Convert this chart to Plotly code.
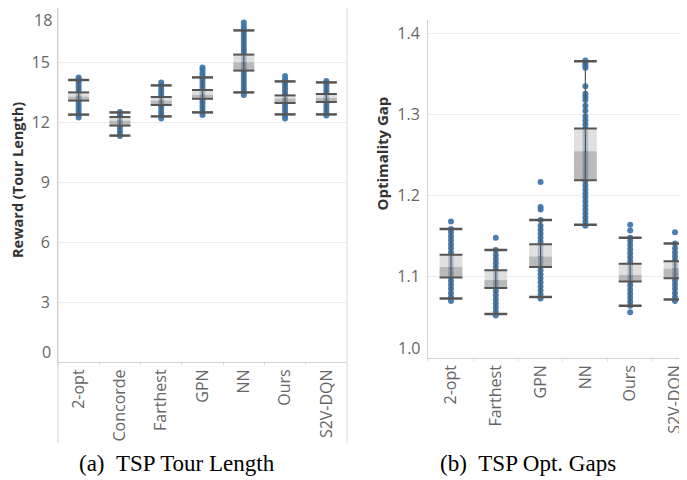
import plotly.graph_objects as go

# ---------------- data ----------------
cats_a = ["2-opt", "Concorde", "Farthest", "GPN", "NN", "Ours", "S2V-DQN"]
lo_a = [12.37, 11.32, 12.28, 12.48, 13.48, 12.38, 12.38]
q1_a = [13.07, 11.82, 12.85, 13.16, 14.57, 12.95, 13.00]
med_a = [13.27, 12.07, 13.07, 13.36, 14.98, 13.17, 13.20]
q3_a = [13.48, 12.25, 13.25, 13.60, 15.37, 13.33, 13.40]
hi_a = [14.10, 12.48, 13.83, 14.23, 16.58, 14.03, 13.98]

pts_a_2opt = [12.22, 12.37, 12.52, 12.67, 12.82, 12.97, 13.12, 13.27, 13.42, 13.57, 13.72, 13.87, 14.02, 14.12, 14.22]
pts_a_concorde = [11.30, 11.45, 11.60, 11.75, 11.90, 12.05, 12.20, 12.35, 12.50]
pts_a_farthest = [12.18, 12.33, 12.48, 12.63, 12.78, 12.93, 13.08, 13.23, 13.38, 13.53, 13.68, 13.83, 13.97]
pts_a_gpn = [12.35, 12.50, 12.65, 12.80, 12.95, 13.10, 13.25, 13.40, 13.55, 13.70, 13.85, 14.00, 14.15, 14.30, 14.45, 14.60, 14.72]
pts_a_nn = [13.35, 13.50, 13.65, 13.80, 13.95, 14.10, 14.25, 14.40, 14.55, 14.70, 14.85, 15.00, 15.15, 15.30,
            15.45, 15.60, 15.75, 15.90, 16.05, 16.20, 16.35, 16.50, 16.65, 16.80, 16.97]
pts_a_ours = [12.18, 12.33, 12.48, 12.63, 12.78, 12.93, 13.08, 13.23, 13.38, 13.53, 13.68, 13.83, 13.98, 14.13, 14.30]
pts_a_s2v = [12.32, 12.47, 12.62, 12.77, 12.92, 13.07, 13.22, 13.37, 13.52, 13.67, 13.82, 13.95, 14.05]

cats_b = ["2-opt", "Farthest", "GPN", "NN", "Ours", "S2V-DQN"]
lo_b = [1.073, 1.054, 1.075, 1.164, 1.064, 1.072]
q1_b = [1.099, 1.086, 1.112, 1.219, 1.094, 1.098]
med_b = [1.112, 1.096, 1.125, 1.255, 1.102, 1.110]
q3_b = [1.127, 1.108, 1.140, 1.283, 1.116, 1.119]
hi_b = [1.159, 1.133, 1.170, 1.366, 1.148, 1.141]

pts_b_2opt = [1.070, 1.075, 1.080, 1.085, 1.090, 1.095, 1.100, 1.105, 1.110, 1.115, 1.120, 1.125, 1.130,
              1.135, 1.140, 1.145, 1.150, 1.155, 1.159, 1.168]
pts_b_farthest = [1.052, 1.057, 1.062, 1.067, 1.072, 1.077, 1.082, 1.087, 1.092, 1.097, 1.102, 1.107, 1.112,
                  1.117, 1.122, 1.127, 1.133, 1.148]
pts_b_gpn = [1.073, 1.078, 1.083, 1.088, 1.093, 1.098, 1.103, 1.108, 1.113, 1.118, 1.123, 1.128, 1.133, 1.138,
             1.143, 1.148, 1.153, 1.158, 1.163, 1.170, 1.183, 1.186, 1.217]
pts_b_nn = [1.163, 1.168, 1.173, 1.178, 1.183, 1.188, 1.193, 1.198, 1.203, 1.208, 1.213, 1.218, 1.223, 1.228,
            1.233, 1.238, 1.243, 1.248, 1.253, 1.258, 1.263, 1.268, 1.273, 1.278, 1.283, 1.288, 1.293, 1.298,
            1.305, 1.311, 1.318, 1.322, 1.326, 1.335, 1.358, 1.361, 1.364, 1.367]
pts_b_ours = [1.056, 1.064, 1.069, 1.074, 1.079, 1.084, 1.089, 1.094, 1.099, 1.104, 1.109, 1.114, 1.119, 1.124,
              1.129, 1.134, 1.139, 1.144, 1.148, 1.157, 1.164]
pts_b_s2v = [1.070, 1.075, 1.080, 1.085, 1.090, 1.095, 1.100, 1.105, 1.110, 1.115, 1.120, 1.125, 1.130, 1.135,
             1.141, 1.155]

yticks_a = [3, 6, 9, 12, 15]
yticks_b = [1.1, 1.2, 1.3, 1.4]

# ---------------- style ----------------
W, H = 687, 480      # browser window
OFF = 8              # default body margin of the page
FW, FH = W - OFF, H - OFF
BLUE = "#3a74ad"
DARK = "#555555"
LIGHT_BOX = "rgba(212,212,212,0.72)"
DARK_BOX = "rgba(160,160,160,0.72)"
GRID = "#ececec"
AXL = "#d3d3d3"
TICKC = "#666666"
SANS = "Open Sans"


def px(x):
    return min(max((x - OFF) / FW, 0.0), 1.0)


def py(y):
    return min(max(1 - (y - OFF) / FH, 0.0), 1.0)


fig = go.Figure()


def add_panel(cats, pts_lists, lo, q1, med, q3, hi, xa, ya, xo, yo, capsize):
    xs, ys = [], []
    for c, vals in zip(cats, pts_lists):
        xs += [c] * len(vals)
        ys += vals
    fig.add_trace(go.Scatter(x=xs, y=ys, mode="markers", xaxis=xa, yaxis=ya,
                             marker=dict(color=BLUE, size=6, opacity=0.92, line=dict(width=0)),
                             showlegend=False, hoverinfo="skip"))
    # boxes (on overlay axes so they sit above the points)
    fig.add_trace(go.Bar(x=cats, y=[b - a for a, b in zip(med, q3)], base=med, width=0.51,
                         marker=dict(color=LIGHT_BOX, line=dict(width=0)),
                         xaxis=xo, yaxis=yo, showlegend=False, hoverinfo="skip"))
    fig.add_trace(go.Bar(x=cats, y=[b - a for a, b in zip(q1, med)], base=q1, width=0.51,
                         marker=dict(color=DARK_BOX, line=dict(width=0)),
                         xaxis=xo, yaxis=yo, showlegend=False, hoverinfo="skip"))
    wx, wy = [], []
    for c, l, h in zip(cats, lo, hi):
        wx += [c, c, None]
        wy += [l, h, None]
    fig.add_trace(go.Scatter(x=wx, y=wy, mode="lines", line=dict(color=DARK, width=1.2),
                             xaxis=xo, yaxis=yo, showlegend=False, hoverinfo="skip"))
    fig.add_trace(go.Scatter(x=cats + cats, y=lo + hi, mode="markers", xaxis=xo, yaxis=yo,
                             marker=dict(symbol="line-ew", size=capsize, line=dict(color=DARK, width=2.5)),
                             showlegend=False, hoverinfo="skip"))
    fig.add_trace(go.Scatter(x=cats + cats, y=q1 + q3, mode="markers", xaxis=xo, yaxis=yo,
                             marker=dict(symbol="line-ew", size=capsize, line=dict(color=DARK, width=2)),
                             showlegend=False, hoverinfo="skip"))


add_panel(cats_a, [pts_a_2opt, pts_a_concorde, pts_a_farthest, pts_a_gpn, pts_a_nn, pts_a_ours, pts_a_s2v],
          lo_a, q1_a, med_a, q3_a, hi_a, "x", "y", "x3", "y3", 15)
add_panel(cats_b, [pts_b_2opt, pts_b_farthest, pts_b_gpn, pts_b_nn, pts_b_ours, pts_b_s2v],
          lo_b, q1_b, med_b, q3_b, hi_b, "x2", "y2", "x4", "y4", 16.3)

# left pane: 0 sits at y=362 px, 20 px per unit, pane top clipped at the page top (y=8)
yr_a = [0, 17.7]
yr_b = [1.0, 1.4169]
xr_a = [-0.5, 6.5]
xr_b = [-0.513, 5.268]

xcommon = dict(type="category", showgrid=False, zeroline=False, showline=True, linecolor=AXL, linewidth=1,
               ticks="outside", tickson="boundaries", ticklen=3, tickcolor="#e3e3e3", tickangle=-90,
               tickfont=dict(family=SANS, size=16, color=TICKC), fixedrange=True)
ycommon = dict(showgrid=True, gridcolor=GRID, gridwidth=1, zeroline=False, showline=True, linecolor=AXL,
               linewidth=1, ticks="", tickfont=dict(family=SANS, size=16, color=TICKC), ticklabelstandoff=4,
               fixedrange=True)

fig.update_layout(
    width=FW, height=FH, margin=dict(l=0, r=0, t=0, b=0),
    paper_bgcolor="white", plot_bgcolor="white",
    barmode="overlay", showlegend=False,
    xaxis=dict(xcommon, domain=[px(58), px(347)], range=xr_a, anchor="y",
               categoryorder="array", categoryarray=cats_a),
    yaxis=dict(ycommon, domain=[py(362), 1.0], range=yr_a, anchor="x", tickvals=yticks_a),
    xaxis2=dict(xcommon, domain=[px(428), 1.0], range=xr_b, anchor="y2",
                categoryorder="array", categoryarray=cats_b),
    yaxis2=dict(ycommon, domain=[py(357.7), py(20)], range=yr_b, anchor="x2", tickvals=yticks_b),
    xaxis3=dict(type="category", overlaying="x", range=xr_a, visible=False, anchor="y3",
                categoryorder="array", categoryarray=cats_a, fixedrange=True),
    yaxis3=dict(overlaying="y", range=yr_a, visible=False, anchor="x3", fixedrange=True),
    xaxis4=dict(type="category", overlaying="x2", range=xr_b, visible=False, anchor="y4",
                categoryorder="array", categoryarray=cats_b, fixedrange=True),
    yaxis4=dict(overlaying="y2", range=yr_b, visible=False, anchor="x4", fixedrange=True),
)

tickfont = dict(family=SANS, size=16, color=TICKC)
annotations = [
    # end labels that Tableau nudges inside the pane
    dict(text="0", xref="paper", yref="paper", x=px(58), y=py(352), xanchor="right", yanchor="middle",
         xshift=-5, showarrow=False, font=tickfont),
    dict(text="18", xref="paper", yref="paper", x=px(58), y=1.0, xanchor="right", yanchor="top",
         xshift=-5, borderpad=0, showarrow=False, font=tickfont),
    dict(text="1.0", xref="paper", yref="paper", x=px(428), y=py(348), xanchor="right", yanchor="middle",
         xshift=-5, showarrow=False, font=tickfont),
    # axis titles
    dict(text="Reward (Tour Length)", xref="paper", yref="paper", x=px(18), y=py(180), textangle=-90,
         xanchor="center", yanchor="middle", showarrow=False,
         font=dict(family=SANS, size=14.5, color="#333333", weight="bold")),
    dict(text="Optimality Gap", xref="paper", yref="paper", x=px(381), y=py(153.5), textangle=-90,
         xanchor="center", yanchor="middle", showarrow=False,
         font=dict(family=SANS, size=15, color="#333333", weight="bold")),
    # captions
    dict(text="(a)\u2002TSP Tour Length", xref="paper", yref="paper", x=px(176.5), y=py(463),
         xanchor="center", yanchor="middle", showarrow=False,
         font=dict(family="Liberation Serif", size=23, color="black")),
    dict(text="(b)\u2002TSP Opt. Gaps", xref="paper", yref="paper", x=px(528), y=py(463),
         xanchor="center", yanchor="middle", showarrow=False,
         font=dict(family="Liberation Serif", size=23, color="black")),
]
fig.update_layout(annotations=annotations)

shapes = [
    dict(type="line", xref="paper", yref="paper", x0=px(58), x1=px(58), y0=py(443), y1=1,
         line=dict(color=AXL, width=1)),
    dict(type="line", xref="paper", yref="paper", x0=px(347), x1=px(347), y0=py(443), y1=1,
         line=dict(color="#dcdcdc", width=1)),
]
fig.update_layout(shapes=shapes)

fig.write_html("out.html")
